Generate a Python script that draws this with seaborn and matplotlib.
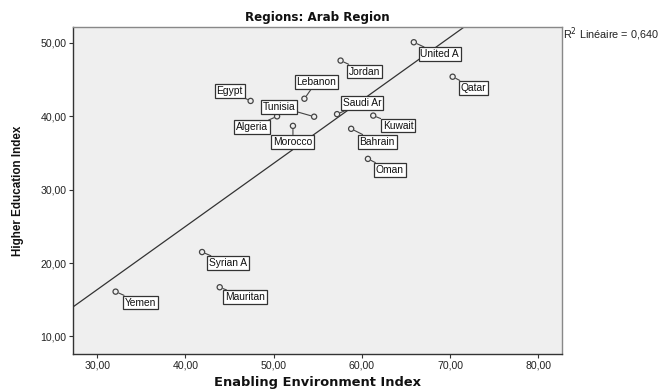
import matplotlib
matplotlib.use("Agg")
import matplotlib.pyplot as plt
import matplotlib.ticker as mticker
import pandas as pd
import seaborn as sns

# Country scores
countries = ["Egypt", "Lebanon", "Tunisia", "Algeria", "Morocco", "Jordan",
             "United A", "Qatar", "Saudi Ar", "Kuwait", "Bahrain", "Oman",
             "Syrian A", "Mauritan", "Yemen"]
enabling_env = [47.4, 53.5, 54.6, 50.4, 52.2, 57.6,
                65.9, 70.3, 57.2, 61.3, 58.8, 60.7,
                41.9, 43.9, 32.1]
higher_edu = [42.1, 42.4, 39.95, 40.0, 38.7, 47.6,
              50.1, 45.4, 40.3, 40.1, 38.3, 34.2,
              21.5, 16.7, 16.1]
r_squared = 0.640

x_ticks = [30, 40, 50, 60, 70, 80]
y_ticks = [10, 20, 30, 40, 50]

# Label box offsets from each point, in pixels
label_offsets = {
    "Egypt": (-21, 10), "Lebanon": (12, 17), "Tunisia": (-35, 10),
    "Algeria": (-25, -11), "Morocco": (0, -16), "Jordan": (24, -11),
    "United A": (26, -12), "Qatar": (21, -11), "Saudi Ar": (25, 11),
    "Kuwait": (25, -10), "Bahrain": (26, -13), "Oman": (22, -11),
    "Syrian A": (26, -11), "Mauritan": (25, -10), "Yemen": (25, -11),
}

df = pd.DataFrame({"country": countries,
                   "Enabling Environment Index": enabling_env,
                   "Higher Education Index": higher_edu})

sns.set_theme(style="ticks")
plt.rcParams["font.family"] = ["Liberation Sans", "DejaVu Sans"]
wide_bold = dict(family="DejaVu Sans", fontweight="bold", color="#111111")

fig = plt.figure(figsize=(6.62, 3.89), dpi=100)
ax = fig.add_axes([0.110, 0.090, 0.739, 0.841])
ax.set_facecolor("#efefef")
ax.set_xlim(27.25, 82.7)
ax.set_ylim(7.6, 52.2)

sns.regplot(data=df, x="Enabling Environment Index", y="Higher Education Index",
            scatter=False, ci=None, truncate=False, ax=ax,
            line_kws={"color": "#333333", "lw": 0.9})
sns.scatterplot(data=df, x="Enabling Environment Index", y="Higher Education Index",
                ax=ax, s=14, facecolor="none", edgecolor="#444444", linewidth=0.9,
                zorder=4)

for name, xv, yv in zip(countries, enabling_env, higher_edu):
    dx, dy = label_offsets[name]
    ax.annotate(name, (xv, yv), xytext=(dx, dy), textcoords="offset pixels",
                ha="center", va="center", fontsize=7.4, color="#111111",
                bbox=dict(boxstyle="square,pad=0.18", fc="white", ec="#333333", lw=0.9),
                arrowprops=dict(arrowstyle="-", color="#444444", lw=0.8,
                                shrinkA=0, shrinkB=2.5),
                zorder=5)

fmt = mticker.FuncFormatter(lambda v, p: f"{v:.2f}".replace(".", ","))
ax.xaxis.set_major_formatter(fmt)
ax.yaxis.set_major_formatter(fmt)
ax.set_xticks(x_ticks)
ax.set_yticks(y_ticks)
ax.tick_params(labelsize=7.6, length=3, width=0.8, colors="#333333", pad=1.5)
for lbl in ax.get_xticklabels() + ax.get_yticklabels():
    lbl.set_color("#222222")

for side in ["left", "bottom"]:
    ax.spines[side].set_color("#333333")
    ax.spines[side].set_linewidth(1.0)
for side in ["top", "right"]:
    ax.spines[side].set_visible(True)
    ax.spines[side].set_color("#888888")
    ax.spines[side].set_linewidth(1.0)

ax.set_xlabel("Enabling Environment Index", fontsize=9.4, labelpad=4.5, **wide_bold)
ax.set_ylabel("Higher Education Index", fontsize=8.4, fontweight="bold",
              color="#111111")
ax.yaxis.set_label_coords(-0.100, 0.5)
ax.set_title("Regions: Arab Region", fontsize=8.6, pad=4, **wide_bold)

fig.text(0.851, 0.912, f"R$^2$ Linéaire = {r_squared:.3f}".replace(".", ","),
         fontsize=7.8, ha="left", va="center", color="#222222")

fig.savefig("out.png", dpi=100)
